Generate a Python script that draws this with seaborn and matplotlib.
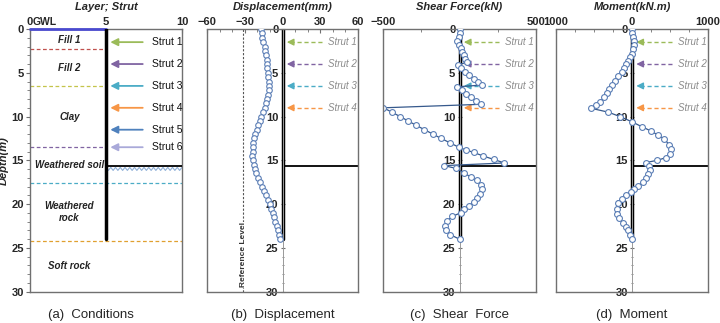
import numpy as np
import matplotlib
matplotlib.use('Agg')
import matplotlib.pyplot as plt
import seaborn as sns

sns.set_style('ticks')
plt.rcParams['font.family'] = ['Liberation Sans', 'DejaVu Sans']

# ---- data ----
strut_names = ['Strut 1', 'Strut 2', 'Strut 3', 'Strut 4', 'Strut 5', 'Strut 6']
strut_depth = [1.5, 4.0, 6.5, 9.0, 11.5, 13.5]
strut_colors = ['#9bbb59', '#8064a2', '#4bacc6', '#f79646', '#4f81bd', '#a9a9d9']

layer_names = ['Fill 1', 'Fill 2', 'Clay', 'Weathered soil', 'Weathered\nrock', 'Soft rock']
layer_label_depth = [1.2, 4.4, 10.1, 15.5, 20.9, 27.1]
layer_bottom = [2.3, 6.5, 13.5, 17.6, 24.2]
layer_line_colors = ['#c0504d', '#c4c44a', '#8064a2', '#4bacc6', '#e0a030']
layer_line_full = [False, False, False, True, True]

wall_bottom = 24.0
excav_level = 15.6
ref_level = -31

disp_depth = np.arange(0, 24.5, 0.5)
disp_mm = [-16.7, -16.3, -15.9, -15.1, -14.3, -13.8, -13.2, -12.7, -12.2, -12.0,
           -11.7, -11.4, -11.1, -11.0, -11.1, -11.5, -12.2, -13.2, -14.3, -15.5,
           -16.7, -18.0, -19.3, -20.4, -21.5, -22.4, -23.3, -23.6, -23.8, -24.0,
           -23.8, -23.0, -22.0, -20.7, -19.3, -17.9, -16.4, -15.0, -13.5, -11.9,
           -10.3, -9.0, -7.7, -6.6, -5.6, -4.6, -3.7, -2.9, -2.1]

shear_depth = [0.0, 0.4, 0.9, 1.4, 1.8, 2.2, 2.6, 3.0, 3.4, 3.8, 4.1, 4.5, 4.9, 5.3,
               5.7, 6.1, 6.4, 6.6, 7.0, 7.4, 7.8, 8.2, 8.6, 9.0, 9.5, 10.0, 10.5,
               11.0, 11.5, 12.0, 12.5, 13.0, 13.5, 13.8, 14.1, 14.5, 14.9, 15.3,
               15.6, 15.9, 16.4, 16.9, 17.3, 17.8, 18.3, 18.8, 19.3, 19.7, 20.2,
               20.6, 21.0, 21.4, 21.9, 22.5, 23.0, 23.5, 24.0]
shear_kn = [0, 0, -3, -15, -2, 8, 18, 28, 38, 48, -12, 12, 38, 65, 92, 120, 150,
            -15, 15, 45, 75, 105, 140, -497, -442, -388, -336, -283, -229, -174,
            -120, -62, -5, 40, 93, 155, 224, 294, -102, -26, 28, 72, 116, 142,
            148, 137, 116, 93, 61, 28, 7, -48, -80, -92, -85, -59, 0]

mom_depth = [0.0, 0.4, 0.9, 1.4, 1.8, 2.3, 2.8, 3.2, 3.65, 4.0, 4.5, 4.9, 5.4, 5.9,
             6.4, 6.8, 7.3, 7.8, 8.3, 8.7, 9.05, 9.5, 10.0, 10.6, 11.15, 11.65,
             12.1, 12.55, 13.2, 13.7, 14.3, 14.7, 15.0, 15.25, 15.6, 16.1, 16.55,
             17.05, 17.5, 17.9, 18.3, 18.6, 18.95, 19.45, 19.9, 20.6, 21.1, 21.6,
             22.2, 22.6, 23.0, 23.5, 24.0]
mom_knm = [0, 0, 13, 20, 20, 13, 0, -26, -57, -83, -100, -136, -180, -224, -267,
           -298, -325, -364, -421, -478, -540, -311, -158, 0, 127, 250, 338, 425,
           487, 513, 500, 443, 330, 184, 228, 237, 215, 184, 140, 83, 26, -18,
           -79, -136, -180, -202, -193, -167, -123, -79, -48, -26, -4]

titles = ['Layer; Strut', 'Displacement(mm)', 'Shear Force(kN)', 'Moment(kN.m)']
captions = ['(a)  Conditions', '(b)  Displacement', '(c)  Shear  Force', '(d)  Moment']

FRAME = '#707070'
MEDGE = '#5a7db5'
LINE = '#36598c'

fig = plt.figure(figsize=(7.2, 3.23), dpi=100)
bottom, height = 1 - 291.7 / 323, 262.7 / 323
ax_a = fig.add_axes([30 / 720, bottom, 152 / 720, height])
ax_b = fig.add_axes([207 / 720, bottom, 151 / 720, height])
ax_c = fig.add_axes([383 / 720, bottom, 153 / 720, height])
ax_d = fig.add_axes([556 / 720, bottom, 152 / 720, height])
axes = [ax_a, ax_b, ax_c, ax_d]


def style_axis(ax):
    ax.set_ylim(30, 0)
    ax.xaxis.tick_top()
    ax.set_yticks(range(0, 31, 5))
    ax.set_yticks(range(0, 31, 1), minor=True)
    for s in ax.spines.values():
        s.set_color(FRAME)
        s.set_linewidth(1.0)
        s.set_visible(True)
    ax.tick_params(axis='both', which='major', labelsize=8, length=3, width=0.8,
                   color=FRAME, pad=1.5)
    ax.tick_params(axis='both', which='minor', length=2, width=0.6, color=FRAME)
    ax.tick_params(axis='x', which='both', direction='in')
    for lab in ax.get_xticklabels() + ax.get_yticklabels():
        lab.set_fontweight('bold')


# ---- (a) conditions ----
ax = ax_a
ax.set_xlim(0, 10)
ax.set_xticks([0, 5, 10])
style_axis(ax)
ax.tick_params(axis='y', which='both', direction='out')
ax.set_ylabel('Depth(m)', fontsize=8, fontweight='bold', style='italic', labelpad=2)
ax.plot([0, 5], [0, 0], color='#4a4ad0', lw=2, clip_on=False, zorder=4)
ax.text(0.2, -0.25, 'GWL', fontsize=7.5, fontweight='bold', va='bottom', ha='left')
for d, c, full in zip(layer_bottom, layer_line_colors, layer_line_full):
    ax.plot([0, 10 if full else 5], [d, d], ls='--', color=c, lw=0.9, dashes=(3, 2))
for name, d in zip(layer_names, layer_label_depth):
    ax.text(2.6, d, name, ha='center', va='center', fontsize=7, style='italic',
            fontweight='bold', color='#222', linespacing=1.3)
ax.plot([5, 5], [0, wall_bottom], color='k', lw=2.5, zorder=5)
ax.plot([5, 10], [excav_level, excav_level], color='k', lw=1.3, zorder=5)
zig_x = np.linspace(5, 10, 33)
zig_y = excav_level + 0.2 + 0.35 * (np.arange(33) % 2)
ax.plot(zig_x, zig_y, color='#8fb0d8', lw=0.8)
for name, d, c in zip(strut_names, strut_depth, strut_colors):
    ax.annotate('', xy=(5.1, d), xytext=(7.6, d),
                arrowprops=dict(arrowstyle='-|>', color=c, lw=1.3, mutation_scale=11))
    ax.text(8.0, d, name, va='center', ha='left', fontsize=7.5, color='#111',
            fontweight='medium')


def center_axis(ax, half):
    ax.set_xlim(-half, half)
    style_axis(ax)
    ax.spines['left'].set_position(('data', 0))
    ax.spines['left'].set_color('#999999')
    ax.spines['left'].set_linewidth(0.7)
    ax.tick_params(axis='y', which='both', direction='inout')
    ax.axvline(-half, color=FRAME, lw=1.0, clip_on=False, zorder=6)
    ax.plot([0, 0], [0, wall_bottom], color='k', lw=2.5, zorder=2)
    ax.plot([0, half], [excav_level, excav_level], color='k', lw=1.3, zorder=2)
    for name, d, c in zip(strut_names[:4], strut_depth[:4], strut_colors[:4]):
        ax.plot([0.52 * half, 0.12 * half], [d, d], ls='--', color=c, lw=1, dashes=(3, 2))
        ax.annotate('', xy=(0.02 * half, d), xytext=(0.14 * half, d),
                    arrowprops=dict(arrowstyle='-|>', color=c, lw=1, mutation_scale=10))
        ax.text(0.6 * half, d, name, va='center', ha='left', fontsize=7,
                style='italic', color='#8a8a8a')


# ---- (b) displacement ----
ax = ax_b
ax.set_xticks([-60, -30, 0, 30, 60])
ax.set_xticks(range(-60, 61, 10), minor=True)
center_axis(ax, 60)
ax.axvline(ref_level, color='#555', lw=0.8, ls='--', dashes=(2, 1.5))
ax.text(ref_level, 25.8, 'Reference Level', rotation=90, ha='center', va='center',
        fontsize=6, fontweight='bold', color='#333',
        bbox=dict(facecolor='white', edgecolor='none', pad=0.5))
sns.scatterplot(x=disp_mm, y=disp_depth, ax=ax, marker='o', s=16,
                facecolor='white', edgecolor=MEDGE, linewidth=0.8, zorder=4)

# ---- (c) shear ----
ax = ax_c
ax.set_xticks([-500, 500])
ax.set_xticks([-250, 0, 250], minor=True)
center_axis(ax, 500)
sns.lineplot(x=shear_kn, y=shear_depth, ax=ax, sort=False, estimator=None,
             color=LINE, lw=0.9, marker='o', markersize=4.2,
             markerfacecolor='white', markeredgecolor=MEDGE, markeredgewidth=0.8,
             zorder=4)

# ---- (d) moment ----
ax = ax_d
ax.set_xticks([-1000, 0, 1000])
ax.set_xticks([-750, -500, -250, 250, 500, 750], minor=True)
center_axis(ax, 1000)
ax.set_xticklabels(['1000', '0', '1000'], fontweight='bold')
sns.lineplot(x=mom_knm, y=mom_depth, ax=ax, sort=False, estimator=None,
             color=LINE, lw=0.9, marker='o', markersize=4.2,
             markerfacecolor='white', markeredgecolor=MEDGE, markeredgewidth=0.8,
             zorder=4)

for ax in axes:
    ax.set_xlabel('')
    for lab in ax.get_xticklabels() + ax.get_yticklabels():
        lab.set_fontweight('bold')
    if ax is not ax_a:
        ax.set_ylabel('')

# titles and captions
for ax, t, cap, cx in zip(axes, titles, captions, [None, None, None, None]):
    pos = ax.get_position()
    xc = (pos.x0 + pos.x1) / 2
    fig.text(xc, 1 - 7 / 323, t, ha='center', va='center', fontsize=8,
             fontweight='bold', style='italic')
    if ax is ax_a:
        xc = 91 / 720
    fig.text(xc, 1 - 315 / 323, cap, ha='center', va='center', fontsize=9.5)

fig.savefig('out.png', dpi=100)
